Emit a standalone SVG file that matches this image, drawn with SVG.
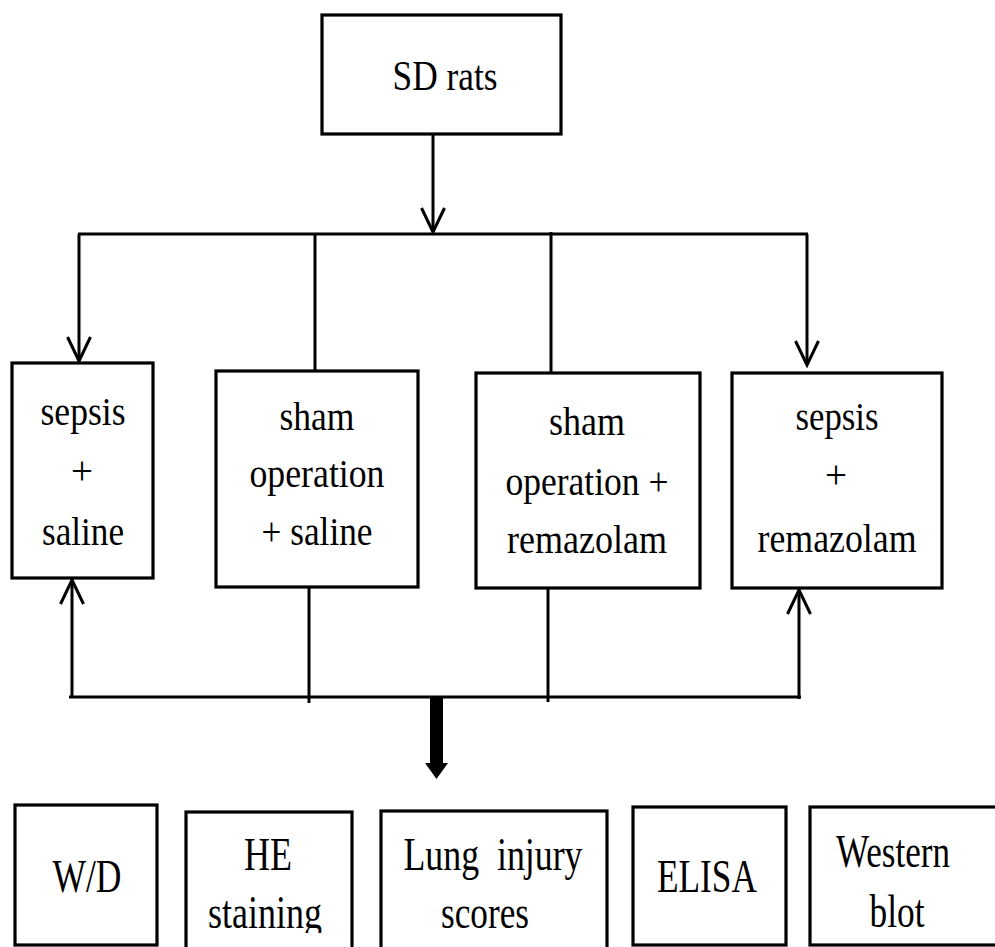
<svg xmlns="http://www.w3.org/2000/svg" width="995" height="947" viewBox="0 0 995 947">
<defs>
<marker id="open" markerUnits="userSpaceOnUse" markerWidth="30" markerHeight="30" viewBox="-26 -15 30 30" refX="0" refY="0" orient="auto">
<path d="M-24,-11.5 L0,0 L-24,11.5" fill="none" stroke="#000" stroke-width="3"/>
</marker>
<clipPath id="clipHE"><rect x="186" y="812" width="166" height="121"/></clipPath>
</defs>
<style>
.box{fill:#fff;stroke:#000;stroke-width:3.2}
.t{font-family:"Liberation Serif","Times New Roman",serif;fill:#000;text-anchor:middle}
.m{font-size:39px}
.b{font-size:46px}
.ln{stroke:#000;stroke-width:3;fill:none}
</style>
<rect width="995" height="947" fill="#fff"/>
<g id="connectors">
<line class="ln" x1="433" y1="134" x2="433" y2="232" marker-end="url(#open)"/>
<line class="ln" x1="78" y1="234" x2="808" y2="234"/>
<line class="ln" x1="79" y1="234" x2="79" y2="361" marker-end="url(#open)"/>
<line class="ln" x1="807" y1="234" x2="807" y2="365" marker-end="url(#open)"/>
<line class="ln" x1="315" y1="234" x2="315" y2="371"/>
<line class="ln" x1="551" y1="232" x2="551" y2="373"/>
<line class="ln" x1="309" y1="587" x2="309" y2="703"/>
<line class="ln" x1="548" y1="588" x2="548" y2="702"/>
<line class="ln" x1="69" y1="697" x2="801" y2="697"/>
<line class="ln" x1="72" y1="697" x2="72" y2="580" marker-end="url(#open)"/>
<line class="ln" x1="799" y1="699" x2="799" y2="590" marker-end="url(#open)"/>
<path d="M430,698 H443 V763 H448 L436.5,779 L425,763 H430 Z" fill="#000"/>
</g>
<g id="sd-rats">
<rect class="box" x="322" y="15" width="239" height="119"/>
<text class="t" x="445" y="90" font-size="42" textLength="105" lengthAdjust="spacingAndGlyphs">SD rats</text>
</g>
<g id="sepsis-saline">
<rect class="box" x="12" y="363" width="141" height="215"/>
<text class="t m" x="83" y="425" textLength="85" lengthAdjust="spacingAndGlyphs">sepsis</text>
<text class="t m" x="82" y="484">+</text>
<text class="t m" x="83" y="545" textLength="82" lengthAdjust="spacingAndGlyphs">saline</text>
</g>
<g id="sham-saline">
<rect class="box" x="216" y="371" width="202" height="216"/>
<text class="t m" x="317" y="430" textLength="75" lengthAdjust="spacingAndGlyphs">sham</text>
<text class="t m" x="317" y="487" textLength="135" lengthAdjust="spacingAndGlyphs">operation</text>
<text class="t m" x="317" y="545" textLength="111" lengthAdjust="spacingAndGlyphs">+ saline</text>
</g>
<g id="sham-remazolam">
<rect class="box" x="476" y="373" width="224" height="215"/>
<text class="t m" x="587" y="435" textLength="76" lengthAdjust="spacingAndGlyphs">sham</text>
<text class="t m" x="587" y="495" textLength="163" lengthAdjust="spacingAndGlyphs">operation +</text>
<text class="t m" x="587" y="553" textLength="160" lengthAdjust="spacingAndGlyphs">remazolam</text>
</g>
<g id="sepsis-remazolam">
<rect class="box" x="732" y="373" width="210" height="215"/>
<text class="t m" x="837" y="430" textLength="83" lengthAdjust="spacingAndGlyphs">sepsis</text>
<text class="t m" x="836" y="488">+</text>
<text class="t m" x="837" y="552" textLength="159" lengthAdjust="spacingAndGlyphs">remazolam</text>
</g>
<g id="wd">
<rect class="box" x="15" y="805" width="142" height="140"/>
<text class="t b" x="87" y="892" textLength="69" lengthAdjust="spacingAndGlyphs">W/D</text>
</g>
<g id="he-staining">
<rect class="box" x="186" y="812" width="166" height="150"/>
<g clip-path="url(#clipHE)">
<text class="t b" x="268" y="870" textLength="48" lengthAdjust="spacingAndGlyphs">HE</text>
<text class="t b" x="265" y="928" textLength="114" lengthAdjust="spacingAndGlyphs">staining</text>
</g>
</g>
<g id="lung-injury">
<rect class="box" x="381" y="811" width="226" height="150"/>
<text class="t b" x="493" y="870" textLength="179" lengthAdjust="spacingAndGlyphs" xml:space="preserve">Lung  injury</text>
<text class="t b" x="485" y="928" textLength="88" lengthAdjust="spacingAndGlyphs">scores</text>
</g>
<g id="elisa">
<rect class="box" x="633" y="807" width="153" height="138"/>
<text class="t b" x="707" y="892" textLength="100" lengthAdjust="spacingAndGlyphs">ELISA</text>
</g>
<g id="western-blot">
<rect class="box" x="810" y="807" width="200" height="138"/>
<text class="t b" x="893" y="867" textLength="114" lengthAdjust="spacingAndGlyphs">Western</text>
<text class="t b" x="897" y="927" textLength="55" lengthAdjust="spacingAndGlyphs">blot</text>
</g>
</svg>
